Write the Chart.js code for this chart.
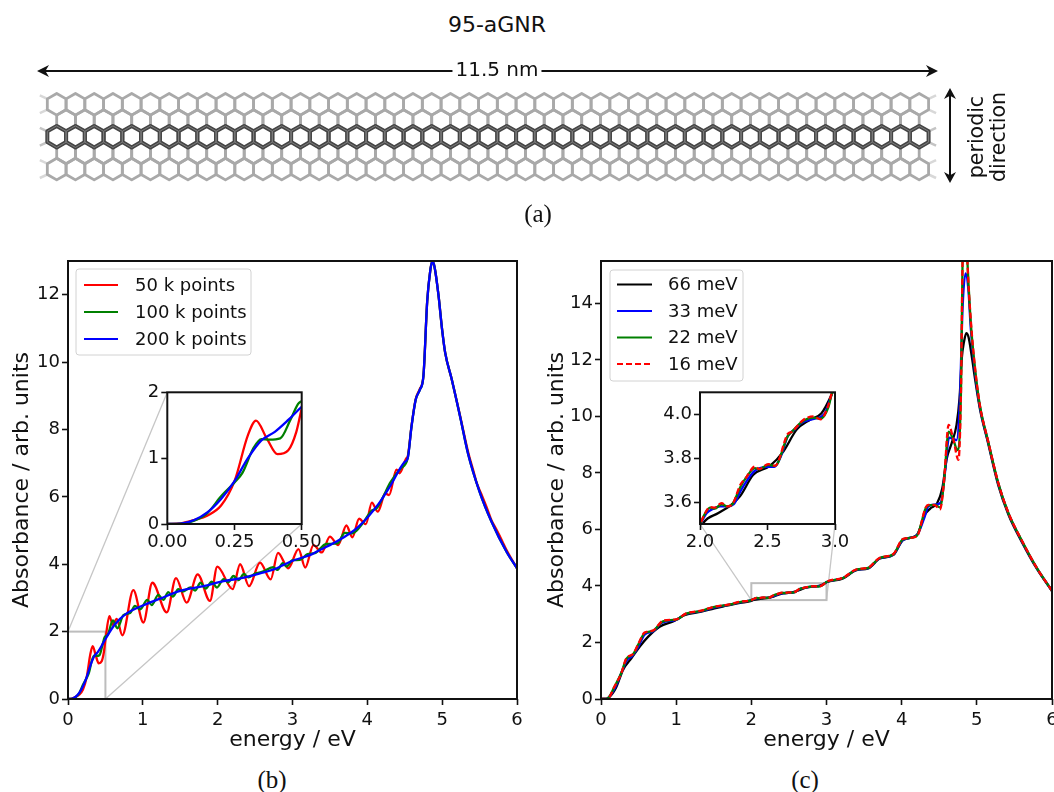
<!DOCTYPE html>
<html><head><meta charset="utf-8">
<script src="https://cdn.jsdelivr.net/npm/chart.js@4/dist/chart.umd.min.js"></script>
<style>
html,body{margin:0;padding:0;background:#fff;width:1054px;height:792px;overflow:hidden}
canvas{position:absolute}
.t{position:absolute;white-space:nowrap;transform:translate(-50%,-50%);color:#111;font-family:"DejaVu Sans",sans-serif;line-height:1}
.s{font-family:"Liberation Serif",serif;font-size:25px}
.r{transform:translate(-50%,-50%) rotate(-90deg);font-size:20.5px}
</style></head><body>
<canvas id="ribbon" width="1054" height="130" style="left:0;top:70px;filter:blur(.45px)"></canvas>
<canvas id="arrows" width="1054" height="130" style="left:0;top:60px"></canvas>
<div class="t" style="left:497px;top:25px;font-size:22px">95-aGNR</div>
<div class="t" style="left:497px;top:69px;font-size:20px;background:#fff;padding:0 3px">11.5 nm</div>
<div class="t r" style="left:976px;top:137px">periodic</div>
<div class="t r" style="left:998px;top:137px">direction</div>
<div class="t s" style="left:538px;top:213px">(a)</div>
<div class="t s" style="left:272px;top:779px">(b)</div>
<div class="t s" style="left:805px;top:779px">(c)</div>
<canvas id="mainB"></canvas><canvas id="mainC"></canvas><canvas id="insetB"></canvas><canvas id="insetC"></canvas>
<script>
// ---------- tick labels ----------
const mainXTicks=[0,1,2,3,4,5,6];
const mainBYTicks=[0,2,4,6,8,10,12];
const mainCYTicks=[0,2,4,6,8,10,12,14];
const insetBXTicks=[0,0.25,0.5];
const insetBYTicks=[0,1,2];
const insetCXTicks=[2,2.5,3];
const insetCYTicks=[3.6,3.8,4.0];
// ---------- panel (b) series ----------
const b50Label="50 k points", b100Label="100 k points", b200Label="200 k points";
const b50E=[0,.05,.1,.15,.2,.25,.3,.33,.37,.41,.45,.48,.5,.553,.6,.65,.726,.873,1.007,1.127,1.32,1.443,1.586,1.733,1.897,1.995,2.2,2.3,2.42,2.566,2.708,2.806,2.944,3.08,3.17,3.28,3.39,3.5,3.61,3.72,3.8,3.89,3.98,4.06,4.14,4.24,4.29,4.39,4.43,4.52,4.54,4.59,4.646,4.7,4.75,4.8,4.84,4.87,4.9,4.95,5,5.04,5.13,5.24,5.35,5.42,5.46,5.52,5.6,5.66,5.72,5.8,5.86,6];
const b50V=[0,.01,.06,.13,.28,.65,1.35,1.57,1.3,1.06,1.12,1.4,1.75,2.46,2.2,2.38,1.89,3.23,2.27,3.45,2.57,3.59,2.86,3.7,2.91,3.93,3.26,4.0,3.35,4.05,3.55,4.34,3.88,4.45,3.9,4.57,4.35,4.82,4.57,5.15,4.8,5.35,5.19,5.83,5.56,6.1,6.05,6.81,6.7,7.14,7.2,8.1,8.9,9.2,9.6,11.8,12.7,13,12.8,12,10.95,10.28,9.47,8.4,7.3,6.75,6.42,6.1,5.66,5.3,5.05,4.7,4.42,3.88];
const b100E=[0,.05,.1,.15,.2,.25,.28,.32,.35,.38,.42,.46,.49,.53,.6,.66,.74,.83,.895,.962,1.06,1.118,1.207,1.274,1.34,1.4,1.474,1.53,1.64,1.7,1.77,1.84,1.92,1.99,2.08,2.14,2.21,2.28,2.35,2.41,2.5,2.6,2.74,2.8,2.87,2.92,3,3.1,3.2,3.3,3.45,3.6,3.7,3.8,3.95,4.06,4.12,4.2,4.3,4.36,4.45,4.54,4.59,4.646,4.7,4.75,4.8,4.84,4.87,4.9,4.95,5,5.04,5.13,5.24,5.35,5.5,5.66,5.86,6];
const b100V=[0,.005,.05,.17,.42,.63,.78,1.15,1.29,1.28,1.3,1.6,1.84,1.9,2.33,2.1,2.49,2.55,2.76,2.66,2.94,2.79,3.09,2.94,3.17,3.04,3.26,3.19,3.31,3.22,3.45,3.28,3.48,3.31,3.56,3.46,3.65,3.53,3.71,3.61,3.72,3.78,3.91,3.83,4.03,3.93,4.12,4.13,4.3,4.33,4.6,4.62,4.93,4.92,5.25,5.6,5.65,5.95,6.4,6.6,6.85,7.15,8.08,8.88,9.17,9.6,11.8,12.7,13,12.8,12,10.95,10.28,9.47,8.38,7.24,6.15,5.26,4.37,3.88];
const b200E=[0,.05,.1,.15,.2,.25,.3,.35,.4,.45,.5,.628,.784,.962,1.23,1.5,1.81,2.08,2.3,2.566,2.79,2.88,3.01,3.23,3.32,3.57,3.88,4.15,4.3,4.5,4.54,4.59,4.646,4.7,4.75,4.8,4.84,4.87,4.9,4.95,5,5.04,5.13,5.24,5.35,5.5,5.66,5.86,6];
const b200V=[0,.005,.06,.18,.38,.65,1,1.27,1.4,1.58,1.78,2.22,2.54,2.74,2.98,3.21,3.35,3.5,3.58,3.73,3.88,3.98,4.11,4.27,4.37,4.65,5.11,5.79,6.3,7.04,7.15,8.08,8.88,9.17,9.6,11.8,12.7,13,12.8,12,10.95,10.28,9.47,8.38,7.24,6.15,5.26,4.37,3.88];
// ---------- panel (c) series ----------
const c66Label="66 meV", c33Label="33 meV", c22Label="22 meV", c16Label="16 meV";
const c66E=[0,.05,.093,.2,.293,.404,.514,.625,.78,.98,1.11,1.335,1.51,1.67,1.85,2,2.025,2.136,2.222,2.296,2.395,2.518,2.617,2.716,2.815,2.9,2.975,3.0,3.22,3.4,3.555,3.71,3.89,4.02,4.2,4.31,4.38,4.47,4.54,4.6,4.665,4.73,4.77,4.8,4.83,4.86,4.89,4.93,4.975,5.04,5.15,5.285,5.42,5.6,5.8,6];
const c66V=[0,0,.03,.4,1.03,1.44,1.85,2.2,2.56,2.77,2.97,3.09,3.21,3.3,3.4,3.47,3.505,3.55,3.583,3.626,3.724,3.765,3.83,3.93,3.975,4.005,4.09,4.13,4.27,4.56,4.62,4.97,5.1,5.63,5.8,6.53,6.74,6.92,7.45,8.51,9.05,9.7,10.65,12.06,12.65,12.95,12.8,12.17,11.35,10.28,9.05,7.57,6.53,5.55,4.6,3.82];
const c33E=[0,.05,.093,.19,.28,.34,.42,.5,.58,.69,.81,1,1.12,1.335,1.51,1.67,1.85,2,2.05,2.1,2.15,2.2,2.25,2.3,2.35,2.4,2.5,2.55,2.6,2.65,2.7,2.75,2.85,2.92,2.975,3,3.22,3.4,3.555,3.71,3.89,4.02,4.2,4.3,4.355,4.44,4.52,4.58,4.63,4.73,4.775,4.81,4.85,4.887,4.92,4.975,5.04,5.15,5.285,5.42,5.6,5.8,6];
const c33V=[0,0,.03,.42,.98,1.36,1.53,1.87,2.28,2.39,2.7,2.8,3.0,3.11,3.24,3.32,3.42,3.5,3.55,3.57,3.58,3.58,3.59,3.65,3.7,3.74,3.76,3.76,3.81,3.9,3.93,3.96,3.98,4,4.09,4.14,4.28,4.57,4.63,4.98,5.11,5.64,5.79,6.4,6.82,6.88,6.95,8.1,9.25,9.16,10.64,13.8,15.06,14.5,13.1,11.58,10.35,9.1,7.62,6.57,5.58,4.62,3.83];
const c22E=[0,.05,.093,.18,.27,.337,.426,.49,.58,.69,.825,1,1.135,1.335,1.51,1.67,1.85,2,2.03,2.074,2.11,2.16,2.2,2.24,2.3,2.34,2.407,2.44,2.506,2.556,2.65,2.68,2.765,2.84,2.894,2.95,2.975,3,3.22,3.4,3.555,3.71,3.89,4.02,4.2,4.32,4.355,4.44,4.51,4.56,4.625,4.69,4.74,4.79,4.81,4.85,4.875,4.92,4.975,5.04,5.15,5.285,5.42,5.6,5.8,6];
const c22V=[0,0,.03,.44,.92,1.42,1.58,1.9,2.33,2.41,2.75,2.81,3.02,3.12,3.26,3.32,3.43,3.5,3.54,3.575,3.57,3.59,3.58,3.59,3.67,3.71,3.755,3.75,3.77,3.765,3.9,3.92,3.97,3.985,3.98,4.03,4.09,4.14,4.28,4.58,4.64,4.99,5.12,5.66,5.77,6.75,6.85,6.87,6.78,7.6,9.46,9.16,8.81,11,15.47,17,15.47,13.3,11.7,10.4,9.12,7.64,6.58,5.6,4.63,3.83];
const c16E=[0,.05,.093,.18,.27,.337,.426,.49,.58,.69,.825,1,1.135,1.335,1.51,1.67,1.85,2,2.03,2.074,2.11,2.16,2.2,2.24,2.3,2.34,2.407,2.44,2.506,2.556,2.65,2.68,2.765,2.84,2.894,2.95,2.975,3,3.22,3.4,3.555,3.71,3.89,4.02,4.2,4.32,4.355,4.44,4.51,4.56,4.625,4.69,4.755,4.79,4.81,4.85,4.875,4.92,4.975,5.04,5.15,5.285,5.42,5.6,5.8,6];
const c16V=[0,0,.02,.44,.91,1.44,1.59,1.91,2.35,2.42,2.77,2.82,3.03,3.13,3.27,3.33,3.44,3.5,3.54,3.577,3.575,3.595,3.58,3.59,3.68,3.71,3.762,3.75,3.773,3.765,3.91,3.92,3.974,3.99,3.977,4.04,4.095,4.15,4.29,4.59,4.65,5,5.13,5.67,5.75,6.78,6.87,6.86,6.71,7.6,9.7,9.16,8.46,11,15.47,17.5,15.47,13.4,11.75,10.4,9.13,7.65,6.59,5.6,4.63,3.83];

// ---------- helpers ----------
const INK='#111';
const pts=(xs,ys)=>xs.map((x,i)=>({x,y:ys[i]}));
const ds=(label,xs,ys,color,order,dash)=>({label,data:pts(xs,ys),order,borderColor:color,borderWidth:2.3,borderDash:dash||[],
  pointRadius:0,fill:false,cubicInterpolationMode:'monotone'});
const seriesB=()=>[ds(b50Label,b50E,b50V,'#ff0000',3),ds(b100Label,b100E,b100V,'#008000',2),ds(b200Label,b200E,b200V,'#0000ff',1)];
const seriesC=()=>[ds(c66Label,c66E,c66V,'#000000',4),ds(c33Label,c33E,c33V,'#0000ff',3),ds(c22Label,c22E,c22V,'#008000',2),ds(c16Label,c16E,c16V,'#ff0000',1,[6,3])];

const decor={
  id:'decor',
  beforeDatasetsDraw(ch){
    const o=ch.options.plugins.decor; if(!o.guide) return;
    const c=ch.ctx,x=ch.scales.x,y=ch.scales.y,g=o.guide;
    c.save();
    c.strokeStyle='#c6c6c6'; c.lineWidth=1.3;
    g.links.forEach(l=>{c.beginPath();c.moveTo(x.getPixelForValue(l[0]),y.getPixelForValue(l[1]));c.lineTo(l[2]-o.box.left,l[3]-o.box.top);c.stroke();});
    c.strokeStyle='#bdbdbd'; c.lineWidth=2;
    c.strokeRect(x.getPixelForValue(g.x0),y.getPixelForValue(g.y1),x.getPixelForValue(g.x1)-x.getPixelForValue(g.x0),y.getPixelForValue(g.y0)-y.getPixelForValue(g.y1));
    c.restore();
  },
  afterDatasetsDraw(ch){
    const o=ch.options.plugins.decor,c=ch.ctx,a=ch.chartArea;
    c.save();
    c.strokeStyle=INK;c.lineWidth=2;
    c.strokeRect(a.left,a.top,a.right-a.left,a.bottom-a.top);
    const L=o.legend;
    if(L){
      const ox=o.box.left,oy=o.box.top;
      c.beginPath();c.roundRect(L.x0-ox,L.y0-oy,L.x1-L.x0,L.y1-L.y0,3);
      c.fillStyle='rgba(255,255,255,.85)';c.fill();
      c.strokeStyle='#d2d2d2';c.lineWidth=1;c.stroke();
      c.font='18px "DejaVu Sans"';c.textBaseline='middle';c.textAlign='left';
      ch.data.datasets.forEach((d,i)=>{
        const yy=L.rows[i]-oy;
        c.beginPath();c.setLineDash(d.borderDash||[]);c.moveTo(L.lx0-ox,yy);c.lineTo(L.lx1-ox,yy);
        c.strokeStyle=d.borderColor;c.lineWidth=2;c.stroke();c.setLineDash([]);
        c.fillStyle=INK;c.fillText(d.label,L.tx-ox,yy+1);
      });
    }
    c.restore();
  }
};

function makeChart(id,box,plot,cfg){
  const cv=document.getElementById(id);
  cv.width=box.width;cv.height=box.height;
  cv.style.left=box.left+'px';cv.style.top=box.top+'px';
  const axis=(min,max,ticks,fmt,title,pad,extra)=>Object.assign({
    type:'linear',min,max,
    afterBuildTicks:s=>{s.ticks=ticks.map(v=>({value:v}));},
    grid:{drawOnChartArea:false,drawTicks:true,tickLength:6,tickColor:INK,tickWidth:1.6},
    border:{display:false},
    ticks:{autoSkip:false,maxRotation:0,minRotation:0,color:INK,padding:pad,font:{family:'DejaVu Sans',size:18},callback:fmt},
    title:title?{display:true,text:title,color:INK,font:{family:'DejaVu Sans',size:22},padding:cfg.titlePad}:{display:false}
  },extra);
  return new Chart(cv,{
    type:'line',
    data:{datasets:cfg.datasets},
    plugins:[decor],
    options:{
      responsive:false,animation:false,devicePixelRatio:1,
      layout:{padding:{top:plot.t-box.top,right:box.left+box.width-plot.r,left:0,bottom:0}},
      plugins:{legend:{display:false},tooltip:{enabled:false},title:{display:false},
        decor:{box,guide:cfg.guide,legend:cfg.legend}},
      scales:{
        x:axis(cfg.xr[0],cfg.xr[1],cfg.xt,cfg.xf,cfg.xTitle,cfg.xPad,{afterFit:s=>{s.height=box.top+box.height-plot.b;}}),
        y:axis(cfg.yr[0],cfg.yr[1],cfg.yt,cfg.yf,cfg.yTitle,2,{afterFit:s=>{s.width=plot.l-box.left;}})
      }
    }
  });
}
const f0=v=>String(v), f1=v=>Number(v).toFixed(1), f2=v=>Number(v).toFixed(2);

makeChart('mainB',{left:0,top:235,width:530,height:527},{l:68,r:517,t:261,b:699},{
  datasets:seriesB(),xr:[0,6],yr:[0,13],xt:mainXTicks,yt:mainBYTicks,xf:f0,yf:f0,xPad:5,
  xTitle:'energy / eV',yTitle:'Absorbance / arb. units',titlePad:{top:9,bottom:9},
  guide:{x0:0,x1:.5,y0:0,y1:2,links:[[0,2,167.3,392.3],[.5,0,301.7,524]]},
  legend:{x0:76,x1:251,y0:269,y1:355,rows:[285,312,339],lx0:84,lx1:118,tx:135}
});
makeChart('mainC',{left:535,top:235,width:530,height:527},{l:601,r:1052,t:261,b:699},{
  datasets:seriesC(),xr:[0,6],yr:[0,15.5],xt:mainXTicks,yt:mainCYTicks,xf:f0,yf:f0,xPad:5,
  xTitle:'energy / eV',yTitle:'Absorbance / arb. units',titlePad:{top:9,bottom:9},
  guide:{x0:2,x1:3,y0:3.5,y1:4.1,links:[[2,3.5,700,524],[3,3.5,835,524]]},
  legend:{x0:610,x1:743,y0:270,y1:381,rows:[284.5,311,337.5,364],lx0:617,lx1:652,tx:668}
});
makeChart('insetB',{left:125,top:365,width:205,height:195},{l:167.3,r:301.7,t:392.3,b:524},{
  datasets:seriesB(),xr:[0,.5],yr:[0,2],xt:insetBXTicks,yt:insetBYTicks,xf:f2,yf:f0,xPad:2
});
makeChart('insetC',{left:640,top:365,width:225,height:195},{l:700,r:835,t:392.3,b:524},{
  datasets:seriesC(),xr:[2,3],yr:[3.5,4.1],xt:insetCXTicks,yt:insetCYTicks,xf:f1,yf:f1,xPad:2
});

// ---------- panel (a): ribbon illustration and arrows ----------
(function(){
  const c=document.getElementById('ribbon').getContext('2d');
  const Y=-70,s=10.8,w=18.75,h=w/2,x0=56.7,mid=136.7+Y,dy=16.2;
  function hex(cx,cy){c.beginPath();c.moveTo(cx,cy-s);c.lineTo(cx+h,cy-s/2);c.lineTo(cx+h,cy+s/2);c.lineTo(cx,cy+s);c.lineTo(cx-h,cy+s/2);c.lineTo(cx-h,cy-s/2);c.closePath();c.stroke();}
  function row(cy,off,n){for(let i=0;i<n;i++)hex(x0+off+i*w,cy);}
  function stubs(cy,col){c.strokeStyle=col;c.lineWidth=2.5;
    [[x0-h,-1],[x0+46*w+h,1]].forEach(([vx,d])=>{[-1,1].forEach(sg=>{c.beginPath();c.moveTo(vx,cy+sg*s/2);c.lineTo(vx+d*7.5,cy+sg*(s/2+3.5));c.stroke();});});}
  c.lineJoin='round';
  [-2,2].forEach(k=>stubs(mid+k*dy,'#d8d8d8'));stubs(mid,'#c4c4c4');
  c.strokeStyle='#a9a9a9';c.lineWidth=2.8;
  [-2,0,2].forEach(k=>row(mid+k*dy,0,47));[-1,1].forEach(k=>row(mid+k*dy,h,46));
  c.strokeStyle='#454545';c.lineWidth=4;row(mid,0,47);
  c.strokeStyle='#7d7d7d';c.lineWidth=1;row(mid,0,47);

  const a=document.getElementById('arrows').getContext('2d');
  const T=-60;
  a.fillStyle=a.strokeStyle='#111';a.lineWidth=2;
  function head(x,y,dx,dy2,L,W){a.beginPath();a.moveTo(x,y);a.lineTo(x-dx*L-dy2*W,y-dy2*L-dx*W);a.lineTo(x-dx*L*.7,y-dy2*L*.7);a.lineTo(x-dx*L+dy2*W,y-dy2*L+dx*W);a.closePath();a.fill();}
  a.beginPath();a.moveTo(42,71+T);a.lineTo(933,71+T);a.stroke();
  head(37,71+T,-1,0,12,6);head(938,71+T,1,0,12,6);
  a.beginPath();a.moveTo(950,94+T);a.lineTo(950,177+T);a.stroke();
  head(950,88+T,0,-1,11,6);head(950,183+T,0,1,11,6);
})();
</script>
</body></html>
